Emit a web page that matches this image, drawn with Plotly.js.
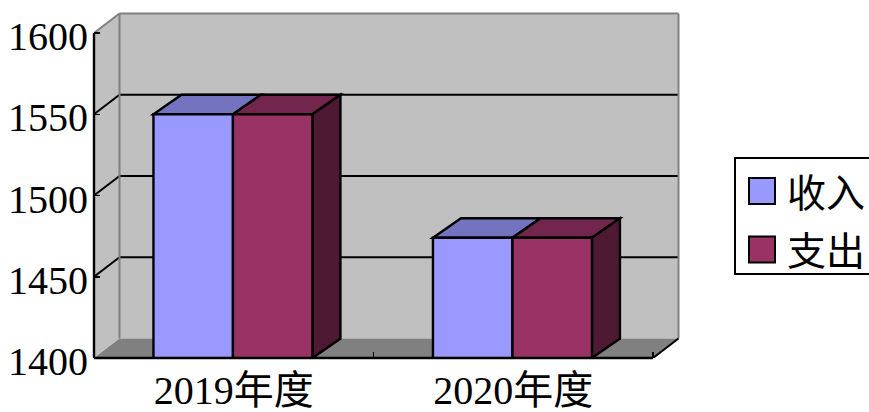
<!DOCTYPE html>
<html>
<head>
<meta charset="utf-8">
<script src="https://cdn.plot.ly/plotly-3.0.1.min.js"></script>
<style>html,body{margin:0;padding:0;background:#fff;overflow:hidden}</style>
</head>
<body>
<div id="chart" style="width:869px;height:412px"></div>
<script>
var categories = ["2019年度", "2020年度"];
var income = [1550, 1474];
var expense = [1550, 1474];
var seriesNames = ["收入", "支出"];
var tickValues = [1400, 1450, 1500, 1550, 1600];
var gridValues = [1450, 1500, 1550];

var W = 869, H = 412;
var m = {l: 94, r: 186, t: 11, b: 54};
var pw = W - m.l - m.r, ph = H - m.t - m.b;
var pxPerCat = 279.5, pxPerVal = 1.625;
var xr = [-0.5, -0.5 + pw / pxPerCat];
var yr = [1400, 1400 + ph / pxPerVal];
var xEnd = 1.5, yTop = 1600;
var wallDX = 25.5 / pxPerCat, wallDY = 19.5 / pxPerVal;
var barDX = 28 / pxPerCat, barDY = 19.5 / pxPerVal;
var barW = 79.5 / pxPerCat;
var barShift = -0.8 / pxPerCat;

var serif = '"Liberation Serif","Noto Sans CJK SC",serif';
var shapes = [], annotations = [];

function poly(pts, fill, lineColor, lineWidth) {
  var d = pts.map(function (p, i) { return (i ? 'L' : 'M') + p[0] + ',' + p[1]; }).join('') + 'Z';
  shapes.push({type: 'path', xref: 'x', yref: 'y', layer: 'below', path: d, fillcolor: fill,
    line: {color: lineColor || fill, width: lineWidth === undefined ? 0 : lineWidth}});
}
function seg(x0, y0, x1, y1, color, width) {
  shapes.push({type: 'line', xref: 'x', yref: 'y', layer: 'below', x0: x0, y0: y0, x1: x1, y1: y1,
    line: {color: color, width: width}});
}
function px(x) { return (x - m.l) / pw; }
function py(y) { return (H - m.b - y) / ph; }

// left wall, back wall, floor
poly([[-0.5, 1400], [-0.5 + wallDX, 1400 + wallDY], [-0.5 + wallDX, yTop + wallDY], [-0.5, yTop]], '#C0C0C0');
poly([[-0.5 + wallDX, 1400 + wallDY], [xEnd + wallDX, 1400 + wallDY], [xEnd + wallDX, yTop + wallDY], [-0.5 + wallDX, yTop + wallDY]], '#C0C0C0');
poly([[-0.5, 1400], [xEnd, 1400], [xEnd + wallDX, 1400 + wallDY], [-0.5 + wallDX, 1400 + wallDY]], '#808080');

// gridlines on the walls
gridValues.forEach(function (v) {
  seg(-0.5, v, -0.5 + wallDX, v + wallDY, '#000', 2);
  seg(-0.5 + wallDX, v + wallDY, xEnd + wallDX, v + wallDY, '#000', 2);
});
// wall edges
seg(-0.5, yTop, -0.5 + wallDX, yTop + wallDY, '#808080', 2);
seg(-0.5 + wallDX, yTop + wallDY, xEnd + wallDX, yTop + wallDY, '#808080', 2);
seg(-0.5 + wallDX, 1400 + wallDY, -0.5 + wallDX, yTop + wallDY, '#808080', 2);
seg(xEnd + wallDX, 1400 + wallDY, xEnd + wallDX, yTop + wallDY, '#808080', 2);
seg(xEnd, 1400, xEnd + wallDX, 1400 + wallDY, '#000', 2);

// 3D faces of the bars
categories.forEach(function (c, i) {
  var a = i + barShift - barW, b = i + barShift, e = i + barShift + barW;
  poly([[a, income[i]], [b, income[i]], [b + barDX, income[i] + barDY], [a + barDX, income[i] + barDY]], '#7373BF', '#000', 2.4);
  poly([[b, expense[i]], [e, expense[i]], [e + barDX, expense[i] + barDY], [b + barDX, expense[i] + barDY]], '#73264D', '#000', 2.4);
  poly([[e, 1400], [e + barDX, 1400 + barDY], [e + barDX, expense[i] + barDY], [e, expense[i]]], '#4D1933', '#000', 2.4);
});

// front axis lines
shapes.push({type: 'line', xref: 'paper', yref: 'paper', layer: 'above', x0: 0, x1: (xEnd - xr[0]) / (xr[1] - xr[0]), y0: 0, y1: 0, line: {color: '#000', width: 2.4}});
shapes.push({type: 'line', xref: 'paper', yref: 'paper', layer: 'above', x0: 0, x1: 0, y0: 0, y1: (yTop - yr[0]) / (yr[1] - yr[0]), line: {color: '#000', width: 2.4}});

// legend
var colors = ['#9999FF', '#993366'];
shapes.push({type: 'rect', xref: 'paper', yref: 'paper', layer: 'above', x0: px(735), x1: px(900), y0: py(274), y1: py(158), fillcolor: '#fff', line: {color: '#000', width: 2}});
seriesNames.forEach(function (name, i) {
  var top = 178 + i * 58.5;
  shapes.push({type: 'rect', xref: 'paper', yref: 'paper', layer: 'above', x0: px(749), x1: px(775), y0: py(top + 26), y1: py(top), fillcolor: colors[i], line: {color: '#000', width: 2}});
  annotations.push({xref: 'paper', yref: 'paper', x: px(785), y: py(top + 15), text: name, showarrow: false, xanchor: 'left', yanchor: 'middle', font: {family: serif, size: 39, color: '#000'}});
});

var traces = [
  {type: 'bar', name: seriesNames[0], x: categories, y: income, width: barW, offset: barShift - barW, marker: {color: colors[0], line: {color: '#000', width: 2.4}}},
  {type: 'bar', name: seriesNames[1], x: categories, y: expense, width: barW, offset: barShift, marker: {color: colors[1], line: {color: '#000', width: 2.4}}}
];

var layout = {
  width: W, height: H, margin: m, showlegend: false,
  paper_bgcolor: '#fff', plot_bgcolor: 'rgba(0,0,0,0)', barmode: 'overlay',
  font: {family: serif, color: '#000'},
  xaxis: {type: 'category', range: xr, autorange: false, showgrid: false, showline: false, zeroline: false,
    tickson: 'boundaries', ticks: 'inside', ticklen: 6, tickwidth: 1.5, tickcolor: '#000',
    ticklabelstandoff: 5,
    tickfont: {family: serif, size: 40, color: '#000'}},
  yaxis: {range: yr, autorange: false, showgrid: false, showline: false, zeroline: false,
    tickmode: 'array', tickvals: tickValues, ticktext: tickValues.map(String),
    ticks: 'inside', ticklen: 6, tickwidth: 1.5, tickcolor: '#000',
    ticklabelstandoff: 5, ticklabelshift: 3,
    tickfont: {family: serif, size: 40, color: '#000'}},
  shapes: shapes, annotations: annotations
};
Plotly.newPlot('chart', traces, layout, {displayModeBar: false, staticPlot: true});
</script>
</body>
</html>
